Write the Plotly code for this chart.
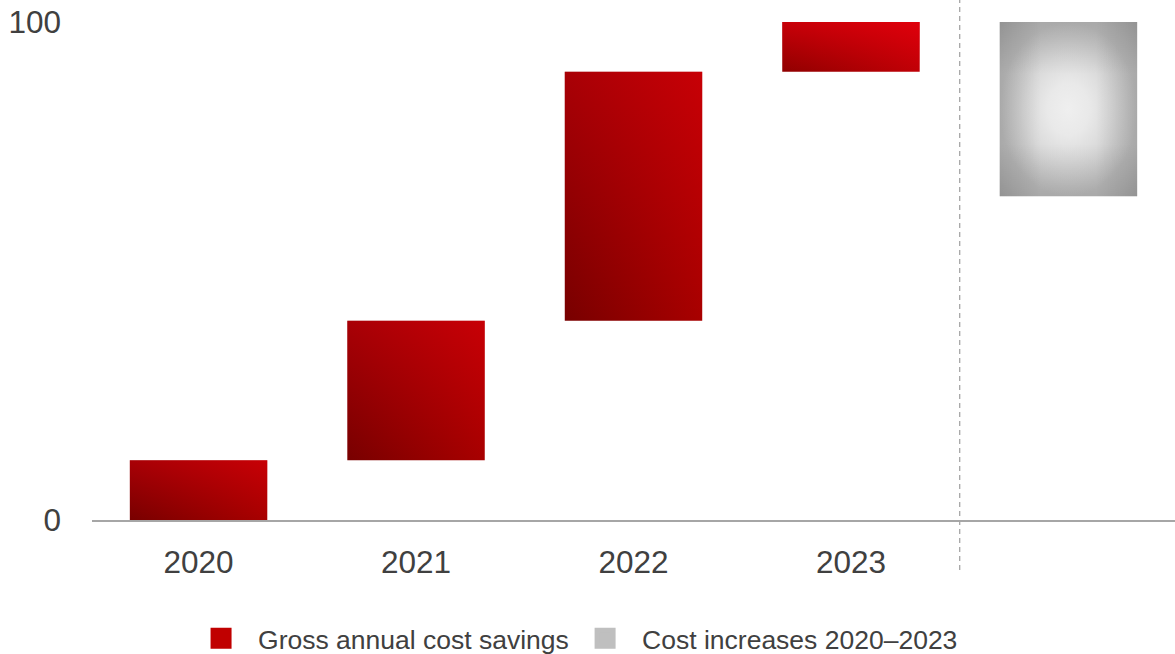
import plotly.graph_objects as go

# ---- data ----
years = ["2020", "2021", "2022", "2023"]
savings = [12, 28, 50, 10]          # gross annual cost savings per year (stacked)
cost_increase = 35                  # cost increases 2020–2023
series_names = ["Gross annual cost savings", "Cost increases 2020–2023"]
y_ticks = [0, 100]

# ---- style ----
HALF = 0.316
TICK_FONT = dict(family="Liberation Sans, Arial, sans-serif", size=31.5, color="#404040")
LEG_FONT = dict(family="Liberation Sans Narrow, Arial Narrow, Liberation Sans, sans-serif", size=26.5, color="#404040")
# (bottom-left colour, bottom-right colour, top red overlay alpha)
bar_styles = [
    ("#780000", "#a80000", 0.36),
    ("#780000", "#a80000", 0.36),
    ("#780000", "#a80000", 0.36),
    ("#900000", "#c00006", 0.50),
]
EDGE_SHADE = [[0, "rgba(0,0,0,0.13)"], [0.3, "rgba(0,0,0,0)"], [0.7, "rgba(0,0,0,0)"], [1, "rgba(0,0,0,0.13)"]]

fig = go.Figure()

base = 0
for i, v in enumerate(savings):
    y0, y1 = base, base + v
    base = y1
    xs = [i - HALF, i + HALF, i + HALF, i - HALF, i - HALF]
    ys = [y0, y0, y1, y1, y0]
    c0, c1, a = bar_styles[i]
    fig.add_trace(go.Scatter(
        x=xs, y=ys, mode="none", fill="toself",
        fillgradient=dict(type="horizontal", colorscale=[[0, c0], [1, c1]]),
        showlegend=False, hoverinfo="skip", legendgroup="s"))
    fig.add_trace(go.Scatter(
        x=xs, y=ys, mode="none", fill="toself",
        fillgradient=dict(type="vertical",
                          colorscale=[[0, "rgba(255,0,16,0)"], [1, f"rgba(255,0,16,{a})"]]),
        showlegend=False, hoverinfo="skip", legendgroup="s"))

total = sum(savings)
gi = len(savings)
gx = [gi - HALF, gi + HALF, gi + HALF, gi - HALF, gi - HALF]
gy = [total - cost_increase, total - cost_increase, total, total, total - cost_increase]
fig.add_trace(go.Scatter(
    x=gx, y=gy, mode="none", fill="toself",
    fillgradient=dict(type="radial",
                      colorscale=[[0, "#efefef"], [0.3, "#e9e9e9"], [0.6, "#dadada"],
                                  [0.85, "#cbcbcb"], [1, "#c2c2c2"]]),
    showlegend=False, hoverinfo="skip", legendgroup="c"))
for gtype in ("horizontal", "vertical"):
    fig.add_trace(go.Scatter(
        x=gx, y=gy, mode="none", fill="toself",
        fillgradient=dict(type=gtype, colorscale=EDGE_SHADE),
        showlegend=False, hoverinfo="skip", legendgroup="c"))

# legend entries
fig.add_trace(go.Scatter(x=[None], y=[None], mode="markers", name=series_names[0], legendgroup="s",
                         legend="legend",
                         marker=dict(symbol="square", size=16, color="#c00000",
                                     line=dict(color="#c00000", width=5))))
fig.add_trace(go.Scatter(x=[None], y=[None], mode="markers", name=series_names[1], legendgroup="c",
                         legend="legend2",
                         marker=dict(symbol="square", size=16, color="#bfbfbf",
                                     line=dict(color="#bfbfbf", width=5))))

# dashed separator between years and cost increases
fig.add_shape(type="line", xref="x", yref="paper", x0=len(years) - 0.5, x1=len(years) - 0.5,
              y0=-0.1004, y1=1.0442, line=dict(color="#a6a6a6", width=1.3, dash="5px,4px"))

leg_common = dict(orientation="h", xref="paper", yref="paper", xanchor="left",
                  y=-0.238, yanchor="middle", font=LEG_FONT, itemwidth=64,
                  bgcolor="rgba(0,0,0,0)", itemclick=False, itemdoubleclick=False)

fig.update_layout(
    width=1175, height=654,
    margin=dict(l=92, r=0, t=22, b=134, autoexpand=False),
    paper_bgcolor="white", plot_bgcolor="white",
    showlegend=True,
    legend=dict(x=0.085, **leg_common),
    legend2=dict(x=0.4396, **leg_common),
    xaxis=dict(range=[-0.49, 4.49], tickvals=list(range(len(years))), ticktext=years,
               showgrid=False, zeroline=False, showline=True, linecolor="#a6a6a6", linewidth=1.5,
               ticks="", tickfont=TICK_FONT, ticklabelstandoff=13, fixedrange=True),
    yaxis=dict(range=[0, 100], tickvals=y_ticks, ticktext=[str(t) for t in y_ticks],
               showgrid=False, zeroline=False, showline=False, ticks="",
               tickfont=TICK_FONT, ticklabelstandoff=30, fixedrange=True),
)

fig.write_html("out.html", config={"displayModeBar": False},
               post_script="document.body.style.margin='0px';document.body.style.overflow='hidden';")
